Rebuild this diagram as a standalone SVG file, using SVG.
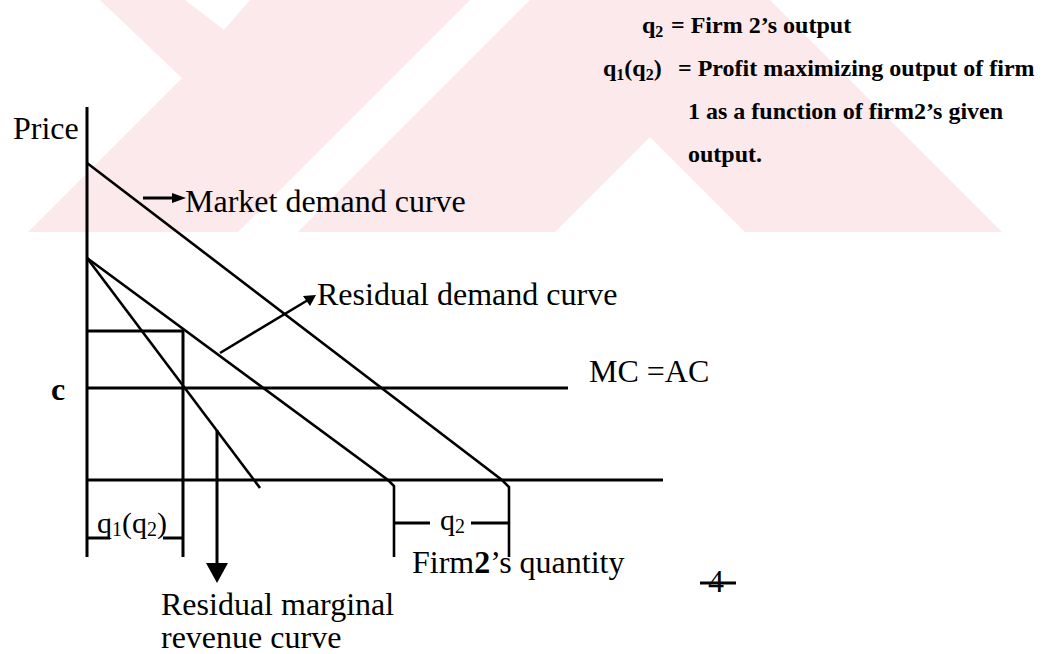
<svg xmlns="http://www.w3.org/2000/svg" width="1060" height="654" viewBox="0 0 1060 654">
<style>
.ln{stroke:#000;stroke-width:3;fill:none;stroke-linecap:butt}
.cv{stroke:#000;stroke-width:2.6;fill:none}
.t{font-family:"Liberation Serif","Times New Roman",serif;font-size:32px;fill:#000}
.lg{font-family:"Liberation Serif","Times New Roman",serif;font-size:24px;font-weight:bold;fill:#000}
.m{font-family:"Liberation Serif","Times New Roman",serif;font-size:30px;fill:#000}
.wm{fill:#fce9ec}
.wh{fill:#fff}
</style>
<rect width="1060" height="654" fill="#fff"/>
<g id="watermark">
<rect class="wm" x="0" y="0" width="1060" height="232"/>
<polygon class="wh" points="0,0 100,0 182,78 28,232 0,232"/>
<polygon class="wh" points="185,0 250,0 224,30"/>
<polygon class="wh" points="470,0 530,0 298,232 238,232"/>
<polygon class="wh" points="650,137 745,232 555,232"/>
<polygon class="wh" points="770,0 1060,0 1060,232 1002,232"/>
</g>
<g id="connectors">
<line class="ln" x1="87" y1="107" x2="87" y2="557"/>
<polyline class="cv" points="87,163 502,480 509,487 509,557"/>
<polyline class="cv" points="87,258 388,480 394,486 394,557"/>
<line class="cv" x1="87" y1="258" x2="260" y2="488"/>
<polyline class="ln" points="87,331 183,331 183,557"/>
<line class="ln" x1="87" y1="388" x2="568" y2="388"/>
<line class="ln" x1="87" y1="480" x2="663" y2="480"/>
<line class="ln" x1="87" y1="538" x2="110" y2="538"/>
<line class="ln" x1="163" y1="538" x2="183" y2="538"/>
<line class="ln" x1="394" y1="523" x2="430" y2="523"/>
<line class="ln" x1="471" y1="523" x2="509" y2="523"/>
<line class="ln" x1="143" y1="198" x2="173" y2="198"/>
<polygon points="172,193 186,198 172,203" fill="#000"/>
<line class="cv" x1="220" y1="353" x2="308" y2="300"/>
<polygon points="303,296 316,295 310,306" fill="#000"/>
<line class="ln" x1="217" y1="430" x2="217" y2="566"/>
<polygon points="206,563 228,563 217,583" fill="#000"/>
</g>
<g id="legend">
<text class="lg" x="642" y="33">q<tspan font-size="16" dy="4">2</tspan><tspan dy="-4"> </tspan></text>
<text class="lg" x="671" y="33">= Firm 2’s output</text>
<text class="lg" x="603" y="76">q<tspan font-size="16" dy="4">1</tspan><tspan dy="-4">(q</tspan><tspan font-size="16" dy="4">2</tspan><tspan dy="-4">)</tspan></text>
<text class="lg" x="678" y="76">= Profit maximizing output of firm</text>
<text class="lg" x="688" y="119">1 as a function of firm2’s given</text>
<text class="lg" x="688" y="162">output.</text>
</g>
<g id="price"><text class="t" x="13" y="139">Price</text></g>
<g id="market"><text class="t" x="185" y="212">Market demand curve</text></g>
<g id="residual"><text class="t" x="317" y="305">Residual demand curve</text></g>
<g id="mcac"><text class="t" x="589" y="382">MC =AC</text></g>
<g id="c"><text class="t" x="51" y="400" font-weight="bold">c</text></g>
<g id="q1q2"><text class="m" x="97" y="533">q<tspan font-size="20" dy="3">1</tspan><tspan dy="-3">(q</tspan><tspan font-size="20" dy="3">2</tspan><tspan dy="-3">)</tspan></text></g>
<g id="q2"><text class="m" x="440" y="530">q<tspan font-size="20" dy="3">2</tspan></text></g>
<g id="quantity"><text class="t" x="412" y="573">Firm<tspan font-weight="bold">2</tspan>’s quantity</text></g>
<g id="mr"><text class="t" x="161" y="615">Residual marginal</text><text class="t" x="161" y="648">revenue curve</text></g>
<g id="pagemark"><text class="t" x="708" y="592" font-size="18">4</text><line class="ln" x1="700" y1="583" x2="736" y2="583" stroke-width="2"/></g>
</svg>
